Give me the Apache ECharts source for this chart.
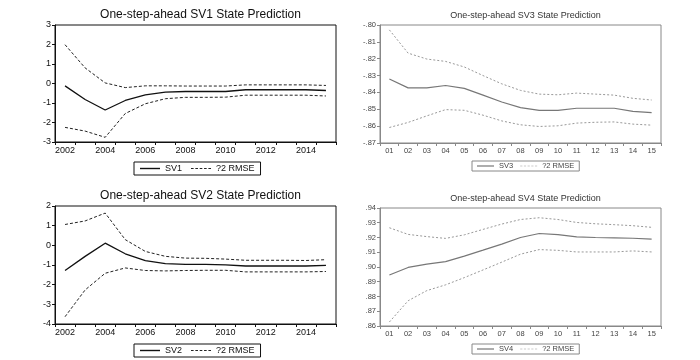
<!DOCTYPE html>
<html><head><meta charset="utf-8">
<script src="https://cdn.jsdelivr.net/npm/echarts@6/dist/echarts.min.js"></script>
<style>html,body{margin:0;padding:0;background:#fff}#c{width:700px;height:360px}</style>
</head><body><div id="c"></div>
<script>
const years = ['2002','2003','2004','2005','2006','2007','2008','2009','2010','2011','2012','2013','2014','2015'];
const periods = ['01','02','03','04','05','06','07','08','09','10','11','12','13','14','15'];

const sv1      = [-0.12,-0.82,-1.36,-0.87,-0.58,-0.44,-0.41,-0.41,-0.41,-0.32,-0.32,-0.32,-0.32,-0.36];
const sv1Upper = [1.99,0.80,0.03,-0.21,-0.12,-0.12,-0.13,-0.13,-0.13,-0.07,-0.07,-0.07,-0.07,-0.10];
const sv1Lower = [-2.25,-2.44,-2.76,-1.54,-1.04,-0.78,-0.71,-0.71,-0.70,-0.60,-0.60,-0.60,-0.60,-0.64];

const sv2      = [-1.28,-0.56,0.11,-0.43,-0.78,-0.93,-0.97,-0.97,-0.99,-1.05,-1.05,-1.05,-1.05,-1.02];
const sv2Upper = [1.06,1.24,1.64,0.29,-0.31,-0.56,-0.65,-0.66,-0.70,-0.76,-0.76,-0.76,-0.77,-0.73];
const sv2Lower = [-3.63,-2.27,-1.42,-1.15,-1.28,-1.30,-1.28,-1.27,-1.27,-1.35,-1.35,-1.35,-1.35,-1.33];

const sv3      = [-0.8320,-0.8373,-0.8373,-0.8359,-0.8376,-0.8416,-0.8457,-0.8490,-0.8506,-0.8506,-0.8494,-0.8494,-0.8494,-0.8512,-0.8520];
const sv3Upper = [-0.8029,-0.8167,-0.8202,-0.8216,-0.8249,-0.8300,-0.8349,-0.8388,-0.8410,-0.8414,-0.8404,-0.8410,-0.8416,-0.8435,-0.8445];
const sv3Lower = [-0.8608,-0.8578,-0.8539,-0.8502,-0.8506,-0.8535,-0.8569,-0.8592,-0.8602,-0.8598,-0.8582,-0.8577,-0.8575,-0.8588,-0.8594];

const sv4      = [0.8946,0.8997,0.9019,0.9036,0.9074,0.9114,0.9155,0.9200,0.9227,0.9220,0.9204,0.9200,0.9198,0.9195,0.9189];
const sv4Upper = [0.9266,0.9221,0.9206,0.9194,0.9218,0.9255,0.9291,0.9322,0.9334,0.9322,0.9302,0.9293,0.9287,0.9280,0.9269];
const sv4Lower = [0.8627,0.8771,0.8840,0.8879,0.8928,0.8980,0.9033,0.9087,0.9118,0.9113,0.9102,0.9102,0.9102,0.9109,0.9102];

const titles = ['One-step-ahead SV1 State Prediction','One-step-ahead SV2 State Prediction','One-step-ahead SV3 State Prediction','One-step-ahead SV4 State Prediction'];

const FONT = 'Liberation Sans, Arial, sans-serif';
const fmtDec = v => { const s = Math.abs(v).toFixed(2).replace(/^0/, ''); return (v < -1e-9 ? '-' : '') + s; };
const DASH_ICON = 'path://M0,0h3v1h-3zM5,0h3v1h-3zM10,0h3v1h-3zM15,0h3v1h-3zM20,0h3v1h-3z';

const grids = [
  {left:55, top:25, width:281, height:117},
  {left:55, top:206, width:281, height:118},
  {left:380, top:25, width:281, height:118},
  {left:380, top:208, width:281, height:118}
];
const dark = [true, true, false, false];

const option = {
  animation:false,
  backgroundColor:'#fff',
  title: titles.map((t,i)=>({
    text:t,
    left: grids[i].left + grids[i].width/2, textAlign:'center',
    top: dark[i] ? grids[i].top - 21 : grids[i].top - 19,
    textStyle:{fontFamily:FONT, fontWeight:'normal', fontSize: dark[i]?12:9, color: dark[i]?'#111':'#333'}
  })),
  grid: grids.map((g,i)=>Object.assign({show:true, borderColor: dark[i]?'#111':'#888', borderWidth:1, backgroundColor:'transparent'}, g)),
  xAxis: [0,1,2,3].map(i=>({
    type:'category', gridIndex:i, data: i<2 ? years : periods, boundaryGap:true,
    axisLine:{show:true, onZero:false, lineStyle:{color: dark[i]?'#111':'#888'}},
    axisTick:{show:true, interval:0, length:3, inside:false, lineStyle:{color: dark[i]?'#111':'#888'}},
    axisLabel:{interval: i<2 ? 1 : 0, margin:4, fontFamily:FONT, fontSize: dark[i]?9:7.5, color: dark[i]?'#111':'#444'},
    splitLine:{show:false}
  })),
  yAxis: [
    {min:-3, max:3, interval:1},
    {min:-4, max:2, interval:1},
    {min:-0.87, max:-0.80, interval:0.01},
    {min:0.86, max:0.94, interval:0.01}
  ].map((a,i)=>Object.assign({
    type:'value', gridIndex:i,
    axisLine:{show:true, onZero:false, lineStyle:{color: dark[i]?'#111':'#888'}},
    axisTick:{show:true, length:3, lineStyle:{color: dark[i]?'#111':'#888'}},
    axisLabel:{margin:4, fontFamily:FONT, fontSize: dark[i]?9:7.5, color: dark[i]?'#111':'#444',
      formatter: i<2 ? (v=>String(Math.round(v))) : fmtDec},
    splitLine:{show:false}
  }, a)),
  legend: [0,1,2,3].map(i=>({
    data: [
      {name:'SV'+(i+1), icon:'rect', itemStyle:{color: dark[i]?'#111':'#777', borderWidth:0}},
      {name:'RMSE'+(i+1), icon:DASH_ICON, itemStyle:{color: dark[i]?'#222':'#999', borderWidth:0}}
    ],
    formatter: n => n.indexOf('RMSE')===0 ? '?2 RMSE' : n,
    left: dark[i] ? 134 : 472,
    top: dark[i] ? grids[i].top + grids[i].height + 20 : grids[i].top + grids[i].height + 18,
    orient:'horizontal',
    borderColor: dark[i]?'#111':'#888', borderWidth:1,
    padding: dark[i]?[2,6,2,6]:[1,5,1,5],
    itemWidth: dark[i]?20:17, itemHeight: dark[i]?1.4:1.2, itemGap: dark[i]?9:7,
    selectedMode:false,
    textStyle:{fontFamily:FONT, fontSize: dark[i]?9:7.5, color: dark[i]?'#111':'#444'}
  })),
  series: []
};

const sets = [
  ['SV1', sv1, sv1Upper, sv1Lower],
  ['SV2', sv2, sv2Upper, sv2Lower],
  ['SV3', sv3, sv3Upper, sv3Lower],
  ['SV4', sv4, sv4Upper, sv4Lower]
];
sets.forEach((s,i)=>{
  const col = dark[i] ? '#111' : '#777';
  const dcol = dark[i] ? '#222' : '#999';
  option.series.push({name:s[0], type:'line', xAxisIndex:i, yAxisIndex:i, data:s[1], symbol:'none',
    lineStyle:{color:col, width: dark[i]?1.3:1.2}, itemStyle:{color:col}});
  [s[2], s[3]].forEach(d=>{
    option.series.push({name:'RMSE'+(i+1), type:'line', xAxisIndex:i, yAxisIndex:i, data:d, symbol:'none',
      lineStyle:{color:dcol, width:1, type: dark[i]?[3,2]:[2,2]}, itemStyle:{color:dcol}});
  });
});

const chart = echarts.init(document.getElementById('c'), null, {renderer:'canvas'});
chart.setOption(option);
</script></body></html>
